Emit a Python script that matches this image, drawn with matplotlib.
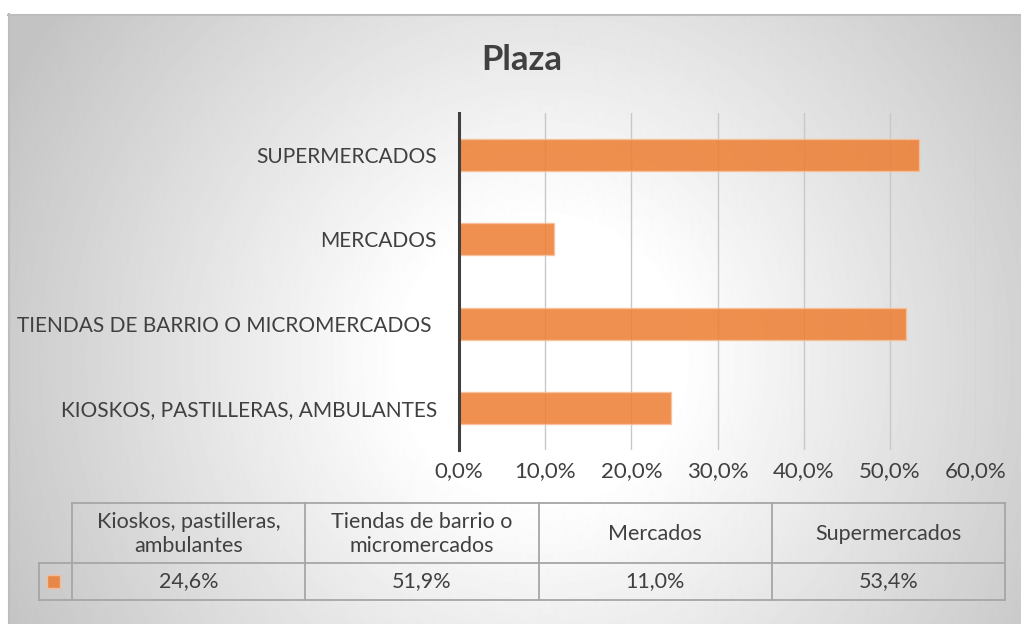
import numpy as np
import matplotlib.pyplot as plt
from matplotlib.lines import Line2D
from matplotlib.patches import Rectangle

plt.rcParams['font.family'] = ['Lato', 'DejaVu Sans']

# data
categories = ["Kioskos, pastilleras,\nambulantes", "Tiendas de barrio o\nmicromercados",
              "Mercados", "Supermercados"]
axis_labels = ["KIOSKOS, PASTILLERAS, AMBULANTES", "TIENDAS DE BARRIO O MICROMERCADOS ",
               "MERCADOS", "SUPERMERCADOS"]
values = [0.246, 0.519, 0.110, 0.534]
xticks = [0.0, 0.1, 0.2, 0.3, 0.4, 0.5, 0.6]

W, H = 1021, 624
text_col = "#404040"
bar_col = "#ED7D31"

fig = plt.figure(figsize=(W / 100, H / 100), dpi=100)

# background: radial gradient panel (white middle, grey edges)
bg = fig.add_axes([0, 0, 1, 1], zorder=-2)
yy, xx = np.mgrid[0:H, 0:W]
r = np.hypot(xx - 540, yy - 360)
img = np.clip(255 - 0.13 * np.clip(r - 140, 0, None), 195, 255)
img[(xx < 8) | (yy < 14)] = 255
bg.imshow(img, cmap="gray", vmin=0, vmax=255, extent=(0, W, H, 0), aspect="auto")
bg.set_xlim(0, W)
bg.set_ylim(H, 0)
bg.axis("off")
bg.add_line(Line2D([8, W], [14.5, 14.5], color="#bdbdbd", lw=1.5))
bg.add_line(Line2D([8.5, 8.5], [14, H], color="#bdbdbd", lw=1.5))

# title
bg.text(522, 60, "Plaza", ha="center", va="center", fontsize=25, fontweight="bold", color=text_col)

# bar chart
ax = fig.add_axes([459 / W, 1 - 450 / H, (976 - 459) / W, (450 - 113) / H])
ax.set_facecolor("none")
ypos = np.arange(len(values))
ax.barh(ypos, values, height=0.38, color=bar_col, alpha=0.85, edgecolor="#F7C09C", linewidth=1, zorder=3)
ax.set_xlim(0, 0.6)
ax.set_ylim(-0.5, len(values) - 0.5)
ax.set_xticks(xticks)
ax.set_xticklabels([f"{t * 100:.1f}%".replace(".", ",") for t in xticks])
ax.set_yticks(ypos)
ax.set_yticklabels(axis_labels)
ax.tick_params(length=0, labelsize=15, colors=text_col)
ax.tick_params(axis="x", labelsize=16, pad=8)
ax.tick_params(axis="y", pad=16)
ax.grid(axis="x", color="#c8c8c8", lw=1, zorder=0)
for s in ["top", "right", "bottom"]:
    ax.spines[s].set_visible(False)
ax.spines["left"].set_color("#404040")
ax.spines["left"].set_linewidth(2.2)
ax.spines["left"].set_zorder(4)

# data table
tc = "#a6a6a6"
x0, xk, x1 = 39, 72, 1005
y0, ym, y1 = 503, 563, 600
colw = (x1 - xk) / len(categories)
bg.add_line(Line2D([xk, x1], [y0, y0], color=tc, lw=1.3))
bg.add_line(Line2D([x0, x1], [ym, ym], color=tc, lw=1.3))
bg.add_line(Line2D([x0, x1], [y1, y1], color=tc, lw=1.3))
bg.add_line(Line2D([x0, x0], [ym, y1], color=tc, lw=1.3))
for i in range(len(categories) + 1):
    xv = xk + i * colw
    bg.add_line(Line2D([xv, xv], [y0, y1], color=tc, lw=1.3))
for i, (c, v) in enumerate(zip(categories, values)):
    xc = xk + (i + 0.5) * colw
    bg.text(xc, (y0 + ym) / 2 + 1, c, ha="center", va="center", fontsize=15.5, color=text_col, linespacing=1.3)
    bg.text(xc, (ym + y1) / 2, f"{v * 100:.1f}%".replace(".", ","), ha="center", va="center",
            fontsize=15.5, color=text_col)
bg.add_patch(Rectangle((47, 575), 13, 13, facecolor=bar_col, alpha=0.85, edgecolor="#F7C09C", lw=1))

fig.savefig("out.png", dpi=100)
